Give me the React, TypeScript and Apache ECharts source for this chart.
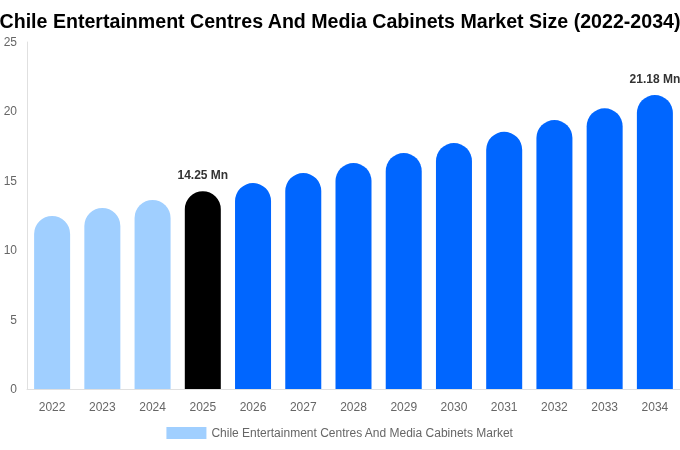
import React, { useEffect, useRef } from 'react';
import * as echarts from 'echarts';

const years = ['2022', '2023', '2024', '2025', '2026', '2027', '2028', '2029', '2030', '2031', '2032', '2033', '2034'];
const values = [12.47, 13.04, 13.62, 14.25, 14.84, 15.56, 16.28, 17.0, 17.72, 18.53, 19.38, 20.22, 21.18];
// indexes of bars that get a value label
const labelled = [3, 12];
const seriesName = 'Chile Entertainment Centres And Media Cabinets Market';

const barColor = (i: number) => (i < 3 ? '#a0cfff' : i === 3 ? '#000000' : '#0066ff');

const App: React.FC = () => {
  const chartRef = useRef<HTMLDivElement | null>(null);

  useEffect(() => {
    if (!chartRef.current) return;
    const chart = echarts.init(chartRef.current, undefined, { renderer: 'svg' });

    const option: echarts.EChartsOption = {
      animation: false,
      textStyle: { fontFamily: 'Liberation Sans, Arial, sans-serif' },
      title: {
        text: 'Chile Entertainment Centres And Media Cabinets Market Size (2022-2034)',
        left: 'center',
        top: 6,
        textStyle: { fontSize: 19.6, fontWeight: 'bold', color: '#000' },
      },
      legend: {
        bottom: 6,
        left: 'center',
        itemWidth: 40,
        itemHeight: 12,
        itemGap: 6,
        icon: 'rect',
        textStyle: { color: '#666', fontSize: 12 },
        data: [{ name: seriesName, itemStyle: { color: '#a0cfff' } }],
      },
      grid: { left: 27, right: 0, top: 42, bottom: 61, containLabel: false },
      xAxis: {
        type: 'category',
        data: years,
        axisLine: { show: true, lineStyle: { color: '#e0e0e0' } },
        axisTick: { show: false },
        axisLabel: { color: '#666', fontSize: 12, margin: 12 },
      },
      yAxis: {
        type: 'value',
        min: 0,
        max: 25,
        interval: 5,
        axisLine: { show: true, lineStyle: { color: '#e0e0e0' } },
        axisTick: { show: false },
        splitLine: { show: false },
        axisLabel: { color: '#666', fontSize: 12, margin: 10 },
      },
      series: [
        {
          name: seriesName,
          type: 'bar',
          barWidth: 36,
          data: values.map((v, i) => ({
            value: v,
            itemStyle: { color: barColor(i), borderRadius: [18, 18, 0, 0] },
            label: {
              show: labelled.includes(i),
              position: 'top',
              distance: 10,
              formatter: `${v.toFixed(2)} Mn`,
              fontWeight: 'bold',
              fontSize: 12,
              color: '#333',
            },
          })),
        },
      ],
    };

    chart.setOption(option);
    return () => {
      chart.dispose();
    };
  }, []);

  return (
    <div
      ref={chartRef}
      style={{ position: 'fixed', left: 0, top: 0, width: 680, height: 450 }}
    ></div>
  );
};

export default App;
